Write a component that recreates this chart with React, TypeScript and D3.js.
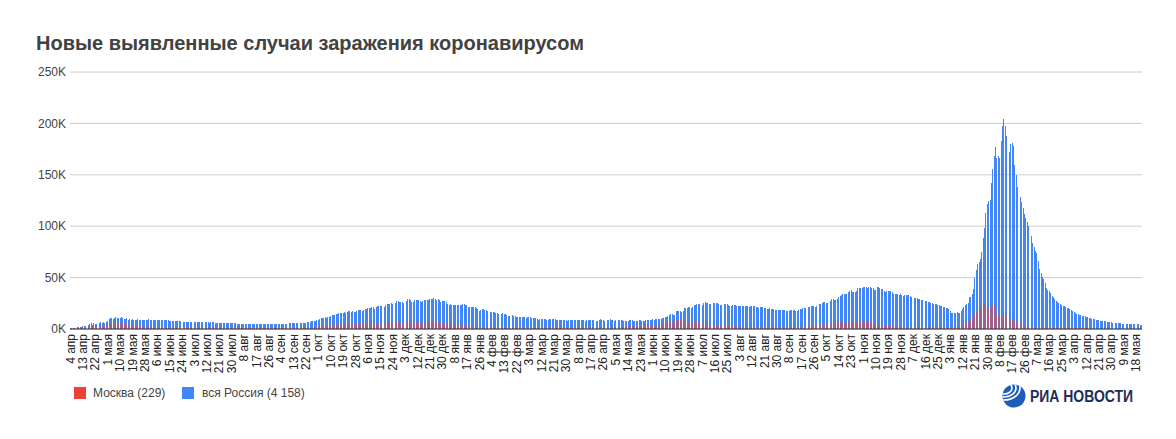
import * as d3 from "d3";

// первый день ряда, подписи оси X — каждый 9-й день
const START_DATE = new Date(2020, 3, 4);
const LABEL_EVERY = 9;
const MONTHS = ["янв", "фев", "мар", "апр", "мая", "июн", "июл", "авг", "сен", "окт", "ноя", "дек"];
const Y_TICKS = [0, 50, 100, 150, 200, 250]; // тыс.

// вся Россия, тыс. случаев в день
const RUSSIA_2020 = [
  0.6, 0.7, 1.0, 1.2, 1.2, 1.5, 1.8, 1.7, 2.2, 2.6, 2.8, 3.4, 3.4, 4.1, 4.8, 6.1, 4.3, 5.6, 5.2, 4.8, 5.8, 6.0, 6.4, 6.2, 6.4, 5.8, 7.1,
  7.9, 9.6, 10.6, 10.6, 10.1, 10.6, 11.2, 10.7, 10.8, 11.0, 11.7, 10.9, 10.0, 10.0, 10.6, 9.2, 9.7, 8.9, 9.3, 8.8, 8.8, 8.9, 9.4, 8.6, 8.9, 8.9, 8.3, 8.4, 8.6, 9.0, 9.3,
  9.0, 8.5, 8.5, 8.8, 8.7, 8.9, 9.0, 9.0, 8.6, 8.4, 8.8, 9.0, 8.7, 8.8, 8.2, 8.2, 7.8, 7.8, 8.0, 7.9, 7.7, 7.6, 7.4, 7.2, 7.1, 6.8, 6.9, 6.8, 6.7, 6.7,
  6.6, 6.8, 6.7, 6.7, 6.6, 6.4, 6.6, 6.6, 6.5, 6.6, 6.6, 6.6, 6.5, 6.2, 6.4, 6.4, 6.4, 6.1, 6.2, 5.9, 5.8, 5.9, 5.8, 5.8, 5.9, 5.8, 5.6, 5.4, 5.5, 5.5, 5.5,
  5.5, 5.4, 5.2, 5.2, 5.1, 5.3, 5.2, 5.2, 5.2, 5.1, 4.9, 5.1, 5.1, 5.1, 5.1, 5.0, 4.8, 4.7, 4.8, 4.8, 4.9, 4.9, 4.9, 4.7, 4.7, 4.7, 4.7, 4.8, 5.0, 4.9, 4.7,
  4.7, 5.0, 5.0, 5.1, 5.2, 5.2, 5.2, 5.1, 5.4, 5.4, 5.4, 5.4, 5.5, 5.5, 5.7, 5.8, 5.9, 5.9, 6.1, 6.1, 6.2, 6.2, 6.4, 6.6, 7.2, 7.5, 7.9, 8.1, 8.2, 8.5,
  8.9, 9.4, 10.5, 10.9, 10.9, 11.6, 11.1, 11.5, 12.1, 12.8, 13.6, 13.9, 13.6, 14.2, 14.9, 15.2, 15.7, 15.1, 16.0, 16.3, 16.0, 16.5, 17.3, 17.3, 16.7, 17.2, 16.6, 16.2, 17.7, 18.3, 18.1,
  18.7, 17.9, 18.6, 19.8, 19.4, 20.6, 20.5, 20.4, 21.8, 21.0, 19.9, 21.6, 22.0, 22.7, 22.6, 22.8, 21.0, 21.0, 23.6, 24.3, 24.8, 24.6, 25.2, 24.3, 23.7, 25.5, 27.5, 27.1, 26.7, 26.3,
  26.4, 25.3, 28.1, 27.4, 28.8, 29.0, 28.1, 26.1, 26.2, 27.9, 28.6, 28.1, 28.1, 27.3, 26.7, 26.8, 27.8, 28.2, 28.2, 28.6, 29.4, 28.9, 28.8, 29.9, 29.3, 28.6, 29.0, 27.8, 26.5, 27.0, 27.7,
];
const RUSSIA_2021 = [
  27.0, 26.3, 24.2, 23.4, 24.2, 23.5, 23.7, 22.9, 23.3, 22.9, 23.3, 22.9, 23.6, 24.8, 24.1, 23.6, 22.9, 21.7, 21.2, 21.3, 21.5, 21.1, 21.6, 20.9, 19.3, 17.7, 18.2, 19.1, 19.0, 18.4, 18.5,
  17.6, 16.6, 16.5, 16.7, 16.7, 16.6, 16.0, 15.9, 14.9, 14.5, 15.0, 15.6, 14.2, 14.2, 13.2, 12.8, 12.7, 13.4, 13.4, 13.0, 12.6, 11.5, 11.4, 11.7, 11.2, 11.6, 11.5, 11.6,
  11.0, 11.4, 11.4, 11.5, 11.0, 10.6, 11.0, 10.9, 9.9, 9.1, 9.3, 9.8, 9.6, 9.8, 9.6, 9.2, 9.2, 9.4, 9.3, 9.6, 9.4, 9.3, 8.8, 8.5, 9.1, 9.1, 9.1, 8.7, 8.7, 8.3, 8.2,
  8.7, 8.9, 8.8, 8.6, 8.6, 8.3, 8.3, 8.3, 9.1, 8.9, 8.7, 8.7, 8.2, 8.3, 8.3, 8.7, 8.8, 8.7, 8.8, 8.1, 8.1, 8.1, 8.9, 9.3, 9.0, 8.6, 8.2, 8.3, 8.8, 9.0,
  9.3, 9.1, 8.5, 8.0, 8.3, 8.3, 8.4, 8.8, 8.7, 8.3, 7.9, 7.9, 8.2, 8.2, 8.3, 8.5, 8.6, 7.8, 7.9, 8.1, 8.2, 8.4, 8.6, 8.0, 8.1, 8.2, 8.6, 8.9, 8.9, 8.9, 9.0,
  9.5, 9.0, 9.3, 9.3, 9.7, 9.3, 9.6, 10.4, 10.9, 11.6, 11.7, 12.5, 13.7, 14.7, 14.2, 14.0, 14.1, 17.3, 17.9, 17.6, 17.4, 16.7, 17.6, 20.2, 20.4, 20.5, 21.6, 21.7, 20.6, 21.0,
  23.5, 23.2, 24.4, 24.4, 24.4, 23.4, 23.5, 25.1, 25.8, 25.1, 25.0, 24.7, 24.4, 23.8, 25.1, 25.3, 25.0, 25.1, 24.2, 23.8, 23.7, 24.1, 24.1, 24.0, 24.1, 23.3, 22.8, 22.6, 23.3, 23.3, 23.3,
  22.6, 22.6, 22.2, 21.9, 22.6, 22.6, 22.4, 22.2, 21.9, 21.6, 21.9, 21.9, 22.3, 22.1, 21.6, 21.0, 20.8, 21.0, 21.1, 21.0, 20.8, 20.5, 19.4, 19.7, 20.0, 19.6, 19.3, 19.4, 18.8, 18.3, 18.8,
  18.6, 18.8, 18.9, 18.8, 18.8, 17.5, 17.8, 17.9, 18.3, 18.6, 18.9, 18.8, 17.8, 17.8, 18.6, 19.9, 19.6, 20.2, 20.2, 20.3, 19.7, 21.4, 21.4, 22.3, 22.3, 22.4, 21.6, 22.4, 23.9, 23.9,
  23.9, 25.0, 25.8, 25.8, 25.1, 25.1, 27.2, 27.6, 29.4, 29.4, 28.2, 28.2, 28.7, 31.3, 32.2, 33.2, 34.3, 33.7, 33.7, 34.1, 36.3, 37.1, 37.7, 35.7, 35.7, 36.4, 36.6, 40.1, 40.1, 40.2, 40.3,
  40.4, 40.4, 40.4, 40.2, 40.7, 41.3, 39.9, 39.4, 38.1, 38.1, 40.8, 41.3, 39.8, 39.3, 39.1, 36.8, 36.3, 37.1, 37.2, 37.1, 37.2, 35.7, 33.9, 33.6, 33.6, 33.9, 33.5, 33.9, 32.6, 32.1,
  32.8, 33.0, 32.9, 32.6, 31.9, 30.8, 30.7, 30.4, 30.2, 29.9, 29.6, 29.0, 28.5, 28.5, 28.0, 27.4, 27.0, 26.5, 25.8, 25.6, 25.2, 24.7, 24.2, 23.9, 23.3, 23.0, 22.6, 21.9, 21.6, 21.2, 20.8,
];
const RUSSIA_2022 = [
  20.1, 19.0, 17.5, 16.0, 15.1, 15.4, 15.8, 16.2, 15.9, 15.8, 17.5, 19.3, 21.1, 23.8, 24.0, 25.1, 30.7, 31.3, 33.9, 38.8, 49.5, 57.2, 63.2, 65.1, 67.8, 74.7, 88.8, 98.0, 113.1, 121.2, 124.1,
  125.8, 141.9, 155.8, 168.2, 177.0, 166.6, 168.2, 166.6, 183.1, 197.1, 203.9, 197.1, 187.9, 180.5, 171.9, 180.1, 180.5, 178.0, 160.0, 150.0, 138.0, 134.0, 128.0, 124.0, 118.0, 112.0, 108.0, 104.0,
  100, 96, 90, 84, 80, 76, 74, 66, 58, 54, 51, 49, 45, 40, 38, 37, 35, 32, 31, 29, 27, 26, 25, 24, 23.5, 22.6, 22, 21.3, 20.6, 20, 19.4,
  18.5, 17.5, 16.5, 15.7, 15.0, 14.5, 14.0, 13.5, 13.0, 12.8, 12.3, 12.0, 11.6, 11.0, 10.6, 10.2, 9.8, 9.5, 9.0, 8.8, 8.5, 8.2, 7.9, 7.8, 7.6, 7.4, 7.2, 7.0, 6.8, 6.6,
  6.3, 6.1, 5.8, 5.8, 5.6, 5.5, 5.4, 5.3, 5.2, 5.2, 5.1, 5.0, 4.9, 4.9, 4.8, 4.7, 4.6, 4.6, 4.5, 4.4, 4.3, 4.158,
];

// Москва, тыс. случаев в день
const MOSCOW_2020 = [
  0.4, 0.5, 0.7, 0.6, 0.7, 1.1, 1.3, 1.0, 1.4, 1.5, 1.4, 1.4, 2.0, 2.0, 3.6, 3.1, 2.6, 3.0, 2.5, 2.0, 2.8, 2.9, 2.9, 2.9, 3.1, 2.2, 3.7,
  4.1, 5.4, 6.1, 5.9, 5.7, 5.9, 6.7, 5.8, 5.7, 5.4, 6.2, 5.4, 4.7, 4.7, 4.8, 3.5, 3.2, 3.2, 3.5, 3.1, 2.9, 2.8, 2.9, 2.6, 2.5, 2.3, 2.1, 2.1, 2.1, 2.3, 2.6,
  2.3, 1.8, 1.6, 1.6, 1.6, 1.6, 1.6, 1.6, 1.3, 1.2, 1.2, 1.2, 1.1, 1.1, 1.0, 1.0, 1.0, 1.0, 1.0, 0.9, 0.8, 0.8, 0.7, 0.7, 0.7, 0.8, 0.7, 0.7, 0.7, 0.7,
  0.6, 0.7, 0.7, 0.7, 0.7, 0.6, 0.6, 0.6, 0.6, 0.6, 0.6, 0.6, 0.6, 0.6, 0.6, 0.6, 0.7, 0.6, 0.6, 0.6, 0.6, 0.6, 0.6, 0.6, 0.6, 0.7, 0.7, 0.6, 0.6, 0.7, 0.7,
  0.7, 0.7, 0.7, 0.7, 0.7, 0.7, 0.7, 0.7, 0.7, 0.7, 0.7, 0.7, 0.7, 0.7, 0.6, 0.6, 0.6, 0.6, 0.6, 0.6, 0.6, 0.6, 0.7, 0.7, 0.7, 0.7, 0.7, 0.7, 0.7, 0.7, 0.7,
  0.7, 0.7, 0.7, 0.7, 0.7, 0.7, 0.7, 0.7, 0.7, 0.7, 0.7, 0.7, 0.7, 0.7, 0.7, 0.7, 0.8, 0.8, 0.9, 0.9, 1.0, 1.0, 1.1, 1.6, 1.6, 2.0, 2.2, 2.3, 2.4, 2.4,
  2.7, 2.9, 3.5, 3.5, 3.5, 3.2, 3.2, 3.3, 3.7, 4.1, 4.6, 4.6, 4.1, 4.1, 4.4, 4.6, 5.1, 4.6, 4.6, 4.3, 4.7, 4.3, 5.2, 5.2, 5.2, 5.2, 4.3, 4.3, 5.1, 5.4, 5.3,
  5.2, 4.5, 4.8, 5.5, 5.9, 6.0, 5.6, 5.9, 6.9, 5.1, 4.6, 5.9, 5.6, 5.7, 5.9, 5.3, 4.6, 4.4, 6.4, 7.2, 6.9, 6.6, 7.2, 5.9, 5.2, 6.6, 7.2, 7.9, 6.6, 6.2,
  6.2, 5.7, 7.8, 6.9, 7.9, 8.0, 7.1, 5.1, 5.3, 6.0, 6.9, 6.4, 6.4, 5.4, 4.7, 4.8, 6.0, 6.4, 6.5, 6.4, 7.2, 6.3, 6.6, 8.2, 7.2, 6.9, 7.2, 5.7, 4.4, 5.2, 5.9,
];
const MOSCOW_2021 = [
  5.3, 5.1, 4.5, 4.3, 4.7, 4.4, 4.7, 4.2, 4.5, 4.4, 4.4, 3.9, 4.2, 4.3, 3.8, 3.4, 3.2, 2.8, 2.5, 2.3, 2.4, 2.4, 2.4, 2.2, 2.1, 1.8, 1.8, 2.0, 2.0, 1.9, 1.9,
  1.8, 1.6, 1.7, 1.8, 1.9, 1.8, 1.8, 1.7, 1.4, 1.5, 1.6, 1.7, 1.7, 1.6, 1.4, 1.3, 1.4, 1.5, 1.6, 1.5, 1.4, 1.4, 1.3, 1.3, 1.3, 1.3, 1.3, 1.3,
  1.3, 1.4, 1.4, 1.4, 1.4, 1.3, 1.3, 1.2, 1.0, 1.0, 1.1, 1.4, 1.3, 1.3, 1.2, 1.1, 1.2, 1.4, 1.4, 1.5, 1.5, 1.4, 1.4, 1.3, 1.6, 1.7, 1.6, 1.6, 1.6, 1.4, 1.4,
  1.6, 1.7, 1.7, 1.6, 1.6, 1.4, 1.3, 1.3, 1.7, 1.7, 1.6, 1.5, 1.4, 1.5, 1.5, 1.6, 1.6, 1.6, 1.7, 1.5, 1.6, 1.6, 2.2, 2.4, 2.1, 1.8, 1.8, 1.9, 2.3, 2.3,
  2.4, 2.3, 2.1, 1.9, 2.2, 2.3, 2.4, 2.5, 2.3, 2.2, 2.3, 2.3, 2.5, 2.4, 2.5, 2.6, 2.6, 2.2, 2.4, 2.6, 2.6, 2.8, 2.8, 2.6, 2.7, 2.9, 3.2, 3.4, 3.4, 3.4, 3.5,
  3.5, 3.1, 3.4, 3.7, 4.0, 4.0, 4.4, 5.0, 5.2, 5.7, 6.6, 6.7, 7.0, 7.0, 6.7, 5.8, 6.7, 9.0, 9.1, 9.1, 8.9, 7.0, 7.3, 7.9, 7.6, 7.5, 7.4, 7.0, 5.4, 5.5,
  6.6, 6.2, 7.3, 7.4, 7.6, 5.4, 5.3, 5.6, 6.0, 5.4, 5.0, 4.7, 4.3, 3.7, 3.8, 4.1, 4.2, 3.9, 3.5, 2.9, 3.0, 3.1, 3.2, 3.2, 3.0, 2.7, 2.3, 2.3, 2.6, 2.7, 2.6,
  2.5, 2.4, 2.1, 2.2, 2.3, 2.4, 2.3, 2.3, 2.2, 2.0, 2.1, 2.2, 2.3, 2.3, 2.1, 2.0, 1.9, 2.0, 2.0, 2.0, 2.0, 1.9, 1.7, 1.8, 1.9, 1.9, 1.8, 1.8, 1.7, 1.5, 1.6,
  1.6, 1.7, 1.7, 1.7, 1.7, 1.4, 1.5, 1.6, 1.6, 1.8, 1.8, 1.8, 1.6, 1.7, 1.9, 2.2, 2.2, 2.3, 2.2, 2.3, 2.1, 2.6, 2.7, 3.0, 3.1, 3.2, 3.1, 3.4, 3.7, 4.0,
  4.2, 4.9, 5.2, 4.3, 4.6, 4.3, 5.1, 5.3, 5.8, 5.9, 5.1, 4.9, 5.6, 6.8, 6.8, 7.3, 7.4, 6.1, 5.7, 6.1, 7.1, 7.2, 8.4, 6.9, 6.7, 7.1, 7.3, 7.6, 7.4, 7.5, 7.5,
  7.3, 7.0, 6.7, 6.6, 6.9, 6.6, 5.0, 4.8, 4.5, 4.4, 4.0, 4.2, 3.8, 3.4, 3.4, 3.1, 3.1, 3.0, 3.1, 2.9, 2.9, 2.7, 2.4, 2.6, 2.6, 2.5, 2.3, 2.2, 2.0, 2.0,
  2.2, 2.3, 2.3, 2.2, 2.2, 1.9, 2.0, 2.1, 2.1, 2.0, 2.1, 2.1, 1.9, 1.9, 2.0, 2.0, 1.9, 2.0, 1.9, 1.9, 2.0, 1.9, 1.9, 2.0, 2.0, 1.8, 1.8, 1.8, 1.8, 1.9, 1.8,
];
const MOSCOW_2022 = [
  1.8, 1.7, 1.6, 1.6, 1.6, 1.8, 1.9, 2.0, 2.0, 2.5, 2.9, 3.7, 4.4, 5.3, 6.1, 7.0, 8.2, 9.5, 11.0, 12.9, 15.0, 16.5, 18.3, 19.5, 21.0, 23.5, 26.0, 25.5, 24.5, 23.0, 21.5,
  21.0, 21.7, 23.0, 24.0, 19.0, 14.5, 13.6, 12.5, 12.0, 12.8, 13.2, 13.6, 12.8, 12.0, 10.5, 9.5, 8.8, 7.8, 7.0, 6.5, 6.0, 5.5, 4.8, 4.0, 3.6, 3.2, 2.9, 2.6,
  2.3, 2.1, 1.9, 1.7, 1.5, 1.4, 1.3, 1.3, 1.2, 1.1, 1.1, 1.0, 1.0, 0.9, 0.9, 0.9, 0.8, 0.8, 0.8, 0.8, 0.7, 0.7, 0.7, 0.7, 0.6, 0.6, 0.6, 0.6, 0.6, 0.6, 0.5,
  0.5, 0.5, 0.5, 0.5, 0.5, 0.5, 0.5, 0.5, 0.5, 0.5, 0.5, 0.5, 0.4, 0.4, 0.4, 0.4, 0.4, 0.4, 0.4, 0.4, 0.4, 0.4, 0.4, 0.4, 0.4, 0.3, 0.3, 0.3, 0.3, 0.3,
  0.3, 0.3, 0.3, 0.3, 0.3, 0.3, 0.3, 0.3, 0.3, 0.3, 0.3, 0.3, 0.3, 0.3, 0.3, 0.3, 0.3, 0.3, 0.3, 0.3, 0.3, 0.229,
];

const russia = [...RUSSIA_2020, ...RUSSIA_2021, ...RUSSIA_2022];
const moscow = [...MOSCOW_2020, ...MOSCOW_2021, ...MOSCOW_2022];

const W = 1176;
const H = 439;
const PLOT = { left: 70, right: 1142, top: 72, bottom: 329 };
const FONT = "'Liberation Sans', Arial, sans-serif";
const BLUE = "#4285f4";
const RED = "#ea4335";

function dayLabel(i: number) {
  const d = d3.timeDay.offset(START_DATE, i);
  return `${d.getDate()} ${MONTHS[d.getMonth()]}`;
}

export default function App() {
  const days = d3.range(russia.length);
  const x = d3.scaleBand<number>().domain(days).range([PLOT.left, PLOT.right]).paddingInner(0.3).paddingOuter(0);
  const y = d3.scaleLinear().domain([0, 250]).range([PLOT.bottom, PLOT.top]);
  const bw = x.bandwidth();
  const labelDays = days.filter((i) => i % LABEL_EVERY === 0);

  return (
    <svg
      width={W}
      height={H}
      style={{ position: "absolute", left: 0, top: 0, background: "#fff" }}
      fontFamily={FONT}
    >
      <text x={36} y={50} fontSize={20} fontWeight="bold" fill="#424242">
        Новые выявленные случаи заражения коронавирусом
      </text>

      {/* сетка и подписи оси Y */}
      {Y_TICKS.map((t) => (
        <g key={t}>
          <line x1={PLOT.left} x2={PLOT.right} y1={y(t)} y2={y(t)} stroke="#cccccc" strokeWidth={1} />
          <text x={66} y={y(t)} dy="0.35em" textAnchor="end" fontSize={12} fill="#444">
            {`${t}K`}
          </text>
        </g>
      ))}

      {/* вся Россия */}
      <g shapeRendering="crispEdges">
        {russia.map((v, i) => (
          <rect key={`r${i}`} x={x(i)} y={y(v)} width={bw} height={y(0) - y(v)} fill={BLUE} />
        ))}
        {/* Москва поверх */}
        {moscow.map((v, i) => (
          <rect key={`m${i}`} x={x(i)} y={y(v)} width={bw} height={y(0) - y(v)} fill={RED} opacity={0.55} />
        ))}
      </g>

      <line x1={PLOT.left} x2={PLOT.right} y1={y(0)} y2={y(0)} stroke="#333" strokeWidth={1} />

      {/* подписи оси X */}
      {labelDays.map((i) => {
        const cx = (x(i) ?? 0) + bw / 2;
        return (
          <text
            key={`l${i}`}
            transform={`translate(${cx},334) rotate(-90)`}
            dy="0.35em"
            textAnchor="end"
            fontSize={12}
            fill="#222"
          >
            {dayLabel(i)}
          </text>
        );
      })}

      {/* легенда */}
      <rect x={74} y={387} width={12} height={12} fill={RED} />
      <text x={93} y={397} fontSize={12} fill="#444">Москва (229)</text>
      <rect x={182} y={387} width={12} height={12} fill={BLUE} />
      <text x={202} y={397} fontSize={12} fill="#444">вся Россия (4 158)</text>

      {/* логотип */}
      <defs>
        <clipPath id="globe">
          <circle cx={1014} cy={396} r={11.5} />
        </clipPath>
      </defs>
      <circle cx={1014} cy={396} r={11.5} fill="#1d5cb8" />
      <g clipPath="url(#globe)" fill="none" stroke="#fff" strokeWidth={1.6}>
        <ellipse cx={1004} cy={388} rx={8} ry={6} />
        <ellipse cx={1004} cy={388} rx={12} ry={9} />
        <ellipse cx={1004} cy={388} rx={16} ry={12} />
      </g>
      <text
        x={1030}
        y={402}
        fontSize={16}
        fontWeight="bold"
        fill="#1c2f57"
        textLength={103}
        lengthAdjust="spacingAndGlyphs"
      >
        РИА НОВОСТИ
      </text>
    </svg>
  );
}
